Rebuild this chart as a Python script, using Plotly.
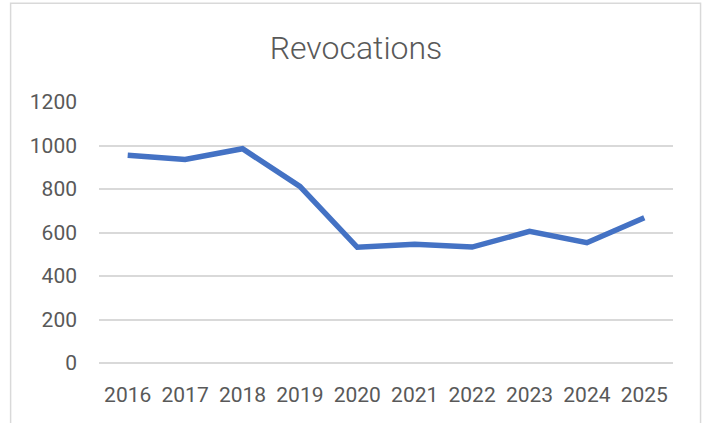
import plotly.graph_objects as go

years = ["2016", "2017", "2018", "2019", "2020", "2021", "2022", "2023", "2024", "2025"]
revocations = [955, 936, 985, 812, 532, 546, 533, 605, 553, 668]
y_ticks = [0, 200, 400, 600, 800, 1000, 1200]

FONT = "Roboto"
TXT = "#595959"
GRID = "#d9d9d9"

fig = go.Figure()
fig.add_trace(go.Scatter(
    x=years, y=revocations, mode="lines",
    line=dict(color="#4472C4", width=5.5),
    hoverinfo="x+y", showlegend=False,
))

fig.update_layout(
    width=705, height=423, autosize=False,
    margin=dict(l=99, r=32, t=102, b=60),
    paper_bgcolor="white", plot_bgcolor="white",
    title=dict(text="Revocations", x=356 / 705, xref="container", xanchor="center",
               y=1 - 47.5 / 423, yref="container", yanchor="middle",
               font=dict(family=FONT, size=32, color=TXT, weight=300)),
    xaxis=dict(type="category", range=[-0.5, len(years) - 0.5],
               showgrid=False, zeroline=False, showline=False,
               ticks="", tickfont=dict(family=FONT, size=21, color=TXT),
               ticklabelstandoff=17),
    yaxis=dict(range=[0, 1200], tickvals=y_ticks, showgrid=True, gridcolor=GRID,
               gridwidth=1.5, zeroline=True, zerolinecolor=GRID, zerolinewidth=1.5,
               showline=False, ticks="", tickfont=dict(family=FONT, size=21, color=TXT),
               ticklabelstandoff=21),
    shapes=[dict(type="rect", xref="paper", yref="paper",
                 x0=-0.154, x1=1.048, y0=-0.6, y1=1.378,
                 line=dict(color=GRID, width=1.5), fillcolor="rgba(0,0,0,0)",
                 layer="below")],
)

fig.write_html("out.html", config={"displayModeBar": False},
               post_script="document.body.style.margin='0';")
